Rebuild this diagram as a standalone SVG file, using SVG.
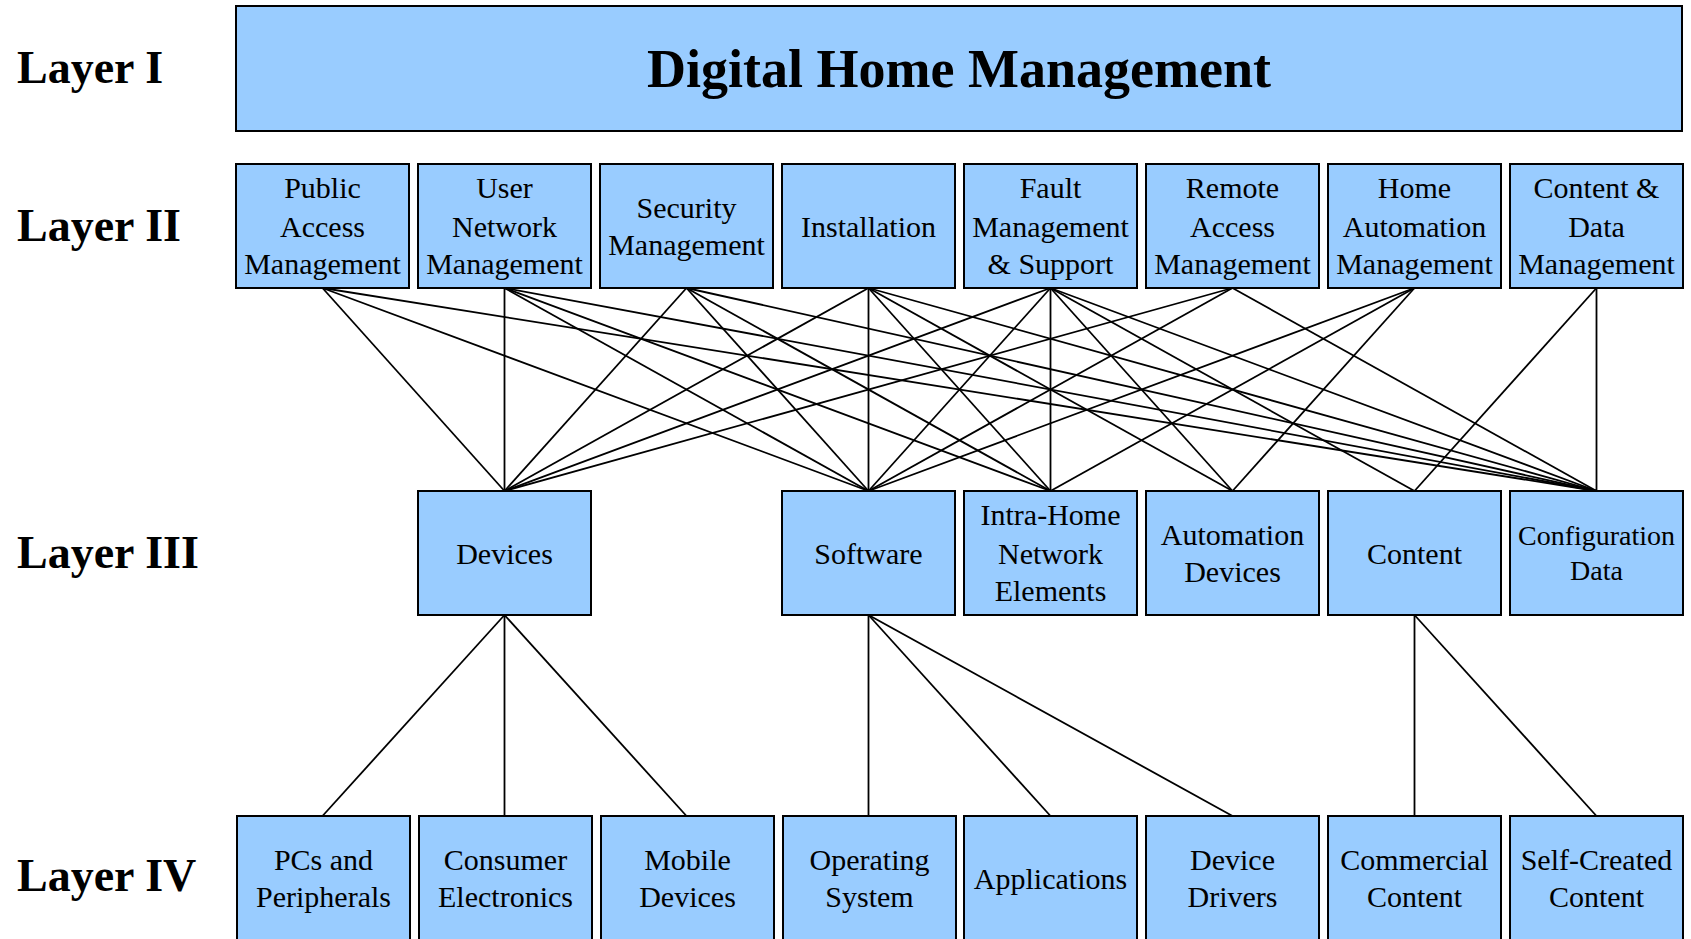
<svg xmlns="http://www.w3.org/2000/svg" width="1691" height="939" viewBox="0 0 1691 939">
  <style>
    .box { fill: #99CCFF; stroke: #000; stroke-width: 2; }
    .lbl { font-family: "Liberation Serif", "Times New Roman", serif; font-size: 30px; fill: #000; text-anchor: middle; }
    .small { font-size: 28px; }
    .layer { font-family: "Liberation Serif", "Times New Roman", serif; font-size: 46px; font-weight: bold; fill: #000; }
    .title { font-family: "Liberation Serif", "Times New Roman", serif; font-size: 54px; font-weight: bold; fill: #000; text-anchor: middle; }
    .links line { stroke: #000; stroke-width: 1.8; }
  </style>

  <!-- layer captions -->
  <g id="layer-captions">
    <text class="layer" x="17" y="83">Layer I</text>
    <text class="layer" x="17" y="241">Layer II</text>
    <text class="layer" x="17" y="568">Layer III</text>
    <text class="layer" x="17" y="891">Layer IV</text>
  </g>

  <!-- connectors: layer II -> layer III, layer III -> layer IV -->
  <g id="connectors" class="links">
    <!-- Public Access Management -->
    <line x1="322.5" y1="288" x2="504.5" y2="491"/>
    <line x1="322.5" y1="288" x2="868.5" y2="491"/>
    <line x1="322.5" y1="288" x2="1596.5" y2="491"/>
    <!-- User Network Management -->
    <line x1="504.5" y1="288" x2="504.5" y2="491"/>
    <line x1="504.5" y1="288" x2="868.5" y2="491"/>
    <line x1="504.5" y1="288" x2="1050.5" y2="491"/>
    <line x1="504.5" y1="288" x2="1596.5" y2="491"/>
    <!-- Security Management -->
    <line x1="686.5" y1="288" x2="504.5" y2="491"/>
    <line x1="686.5" y1="288" x2="868.5" y2="491"/>
    <line x1="686.5" y1="288" x2="1050.5" y2="491"/>
    <line x1="686.5" y1="288" x2="1596.5" y2="491"/>
    <!-- Installation -->
    <line x1="868.5" y1="288" x2="504.5" y2="491"/>
    <line x1="868.5" y1="288" x2="868.5" y2="491"/>
    <line x1="868.5" y1="288" x2="1050.5" y2="491"/>
    <line x1="868.5" y1="288" x2="1232.5" y2="491"/>
    <line x1="868.5" y1="288" x2="1596.5" y2="491"/>
    <!-- Fault Management & Support -->
    <line x1="1050.5" y1="288" x2="504.5" y2="491"/>
    <line x1="1050.5" y1="288" x2="868.5" y2="491"/>
    <line x1="1050.5" y1="288" x2="1050.5" y2="491"/>
    <line x1="1050.5" y1="288" x2="1232.5" y2="491"/>
    <line x1="1050.5" y1="288" x2="1414.5" y2="491"/>
    <line x1="1050.5" y1="288" x2="1596.5" y2="491"/>
    <!-- Remote Access Management -->
    <line x1="1232.5" y1="288" x2="504.5" y2="491"/>
    <line x1="1232.5" y1="288" x2="868.5" y2="491"/>
    <line x1="1232.5" y1="288" x2="1596.5" y2="491"/>
    <!-- Home Automation Management -->
    <line x1="1414.5" y1="288" x2="868.5" y2="491"/>
    <line x1="1414.5" y1="288" x2="1050.5" y2="491"/>
    <line x1="1414.5" y1="288" x2="1232.5" y2="491"/>
    <!-- Content & Data Management -->
    <line x1="1596.5" y1="288" x2="1414.5" y2="491"/>
    <line x1="1596.5" y1="288" x2="1596.5" y2="491"/>
    <!-- Devices -->
    <line x1="504.5" y1="615" x2="322.5" y2="816"/>
    <line x1="504.5" y1="615" x2="504.5" y2="816"/>
    <line x1="504.5" y1="615" x2="686.5" y2="816"/>
    <!-- Software -->
    <line x1="868.5" y1="615" x2="868.5" y2="816"/>
    <line x1="868.5" y1="615" x2="1050.5" y2="816"/>
    <line x1="868.5" y1="615" x2="1232.5" y2="816"/>
    <!-- Content -->
    <line x1="1414.5" y1="615" x2="1414.5" y2="816"/>
    <line x1="1414.5" y1="615" x2="1596.5" y2="816"/>
  </g>

  <!-- Layer I -->
  <g id="digital-home-management">
    <rect class="box" x="236" y="6" width="1446" height="125"/>
    <text class="title" x="959" y="87">Digital Home Management</text>
  </g>

  <!-- Layer II -->
  <g id="public-access-management">
    <rect class="box" x="236" y="164" width="173" height="124"/>
    <text class="lbl"><tspan x="322.5" y="198">Public</tspan><tspan x="322.5" y="236.5">Access</tspan><tspan x="322.5" y="274">Management</tspan></text>
  </g>
  <g id="user-network-management">
    <rect class="box" x="418" y="164" width="173" height="124"/>
    <text class="lbl"><tspan x="504.5" y="198">User</tspan><tspan x="504.5" y="236.5">Network</tspan><tspan x="504.5" y="274">Management</tspan></text>
  </g>
  <g id="security-management">
    <rect class="box" x="600" y="164" width="173" height="124"/>
    <text class="lbl"><tspan x="686.5" y="217.8">Security</tspan><tspan x="686.5" y="255.3">Management</tspan></text>
  </g>
  <g id="installation">
    <rect class="box" x="782" y="164" width="173" height="124"/>
    <text class="lbl" x="868.5" y="236.5">Installation</text>
  </g>
  <g id="fault-management-support">
    <rect class="box" x="964" y="164" width="173" height="124"/>
    <text class="lbl"><tspan x="1050.5" y="198">Fault</tspan><tspan x="1050.5" y="236.5">Management</tspan><tspan x="1050.5" y="274">&amp; Support</tspan></text>
  </g>
  <g id="remote-access-management">
    <rect class="box" x="1146" y="164" width="173" height="124"/>
    <text class="lbl"><tspan x="1232.5" y="198">Remote</tspan><tspan x="1232.5" y="236.5">Access</tspan><tspan x="1232.5" y="274">Management</tspan></text>
  </g>
  <g id="home-automation-management">
    <rect class="box" x="1328" y="164" width="173" height="124"/>
    <text class="lbl"><tspan x="1414.5" y="198">Home</tspan><tspan x="1414.5" y="236.5">Automation</tspan><tspan x="1414.5" y="274">Management</tspan></text>
  </g>
  <g id="content-data-management">
    <rect class="box" x="1510" y="164" width="173" height="124"/>
    <text class="lbl"><tspan x="1596.5" y="198">Content &amp;</tspan><tspan x="1596.5" y="236.5">Data</tspan><tspan x="1596.5" y="274">Management</tspan></text>
  </g>

  <!-- Layer III -->
  <g id="devices">
    <rect class="box" x="418" y="491" width="173" height="124"/>
    <text class="lbl" x="504.5" y="563.5">Devices</text>
  </g>
  <g id="software">
    <rect class="box" x="782" y="491" width="173" height="124"/>
    <text class="lbl" x="868.5" y="563.5">Software</text>
  </g>
  <g id="intra-home-network-elements">
    <rect class="box" x="964" y="491" width="173" height="124"/>
    <text class="lbl"><tspan x="1050.5" y="525">Intra-Home</tspan><tspan x="1050.5" y="563.5">Network</tspan><tspan x="1050.5" y="601">Elements</tspan></text>
  </g>
  <g id="automation-devices">
    <rect class="box" x="1146" y="491" width="173" height="124"/>
    <text class="lbl"><tspan x="1232.5" y="544.5">Automation</tspan><tspan x="1232.5" y="582">Devices</tspan></text>
  </g>
  <g id="content">
    <rect class="box" x="1328" y="491" width="173" height="124"/>
    <text class="lbl" x="1414.5" y="563.5">Content</text>
  </g>
  <g id="configuration-data">
    <rect class="box" x="1510" y="491" width="173" height="124"/>
    <text class="lbl small"><tspan x="1596.5" y="545.3">Configuration</tspan><tspan x="1596.5" y="580.3">Data</tspan></text>
  </g>

  <!-- Layer IV -->
  <g id="pcs-and-peripherals">
    <rect class="box" x="237" y="816" width="173" height="125"/>
    <text class="lbl"><tspan x="323.5" y="869.8">PCs and</tspan><tspan x="323.5" y="907.3">Peripherals</tspan></text>
  </g>
  <g id="consumer-electronics">
    <rect class="box" x="419" y="816" width="173" height="125"/>
    <text class="lbl"><tspan x="505.5" y="869.8">Consumer</tspan><tspan x="505.5" y="907.3">Electronics</tspan></text>
  </g>
  <g id="mobile-devices">
    <rect class="box" x="601" y="816" width="173" height="125"/>
    <text class="lbl"><tspan x="687.5" y="869.8">Mobile</tspan><tspan x="687.5" y="907.3">Devices</tspan></text>
  </g>
  <g id="operating-system">
    <rect class="box" x="783" y="816" width="173" height="125"/>
    <text class="lbl"><tspan x="869.5" y="869.8">Operating</tspan><tspan x="869.5" y="907.3">System</tspan></text>
  </g>
  <g id="applications">
    <rect class="box" x="964" y="816" width="173" height="125"/>
    <text class="lbl" x="1050.5" y="888.5">Applications</text>
  </g>
  <g id="device-drivers">
    <rect class="box" x="1146" y="816" width="173" height="125"/>
    <text class="lbl"><tspan x="1232.5" y="869.8">Device</tspan><tspan x="1232.5" y="907.3">Drivers</tspan></text>
  </g>
  <g id="commercial-content">
    <rect class="box" x="1328" y="816" width="173" height="125"/>
    <text class="lbl"><tspan x="1414.5" y="869.8">Commercial</tspan><tspan x="1414.5" y="907.3">Content</tspan></text>
  </g>
  <g id="self-created-content">
    <rect class="box" x="1510" y="816" width="173" height="125"/>
    <text class="lbl"><tspan x="1596.5" y="869.8">Self-Created</tspan><tspan x="1596.5" y="907.3">Content</tspan></text>
  </g>
</svg>
